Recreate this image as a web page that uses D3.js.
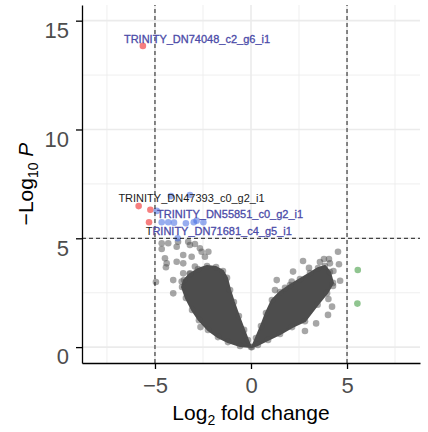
<!DOCTYPE html>
<html>
<head>
<meta charset="UTF-8">
<title>Volcano plot</title>
<style>
  body { margin: 0; background: #fff; }
  svg { display: block; font-family: "Liberation Sans", Arial, sans-serif; }
</style>
</head>
<body>
<svg></svg>
<script src="https://d3js.org/d3.v7.min.js"></script>
<script>

let width = 428, height = 432;

// axis ticks
const xTicks = [-5, 0, 5], xMinor = [-7.5, -2.5, 2.5, 7.5];
const yTicks = [0, 5, 10, 15], yMinor = [2.5, 7.5, 12.5];
const fcCut = [-5, 5], pCut = 5;

// dense part of the grey cloud (log2FC, -log10 P), read as outlines
const coreLeft = [[0,0],[-0.57,0.05],[-1.2,0.23],[-1.72,0.46],[-2.24,0.79],[-2.71,1.24],[-3.07,1.71],
  [-3.39,2.26],[-3.59,2.76],[-3.49,3.08],[-3.18,3.36],[-2.76,3.59],[-2.29,3.73],[-1.82,3.68],
  [-1.46,3.5],[-1.25,3.18],[-1.09,2.62],[-0.89,2.07],[-0.63,1.43],[-0.36,0.79],[-0.16,0.33]];
const coreRight = [[0.05,0],[0.26,0.42],[0.52,0.97],[0.78,1.57],[1.09,2.16],[1.51,2.53],[2.03,2.85],
  [2.55,3.13],[3.07,3.4],[3.49,3.63],[3.85,3.73],[4.11,3.45],[4.27,2.95],[3.96,2.48],[3.47,1.95],
  [2.81,1.19],[2.14,0.92],[1.51,0.6],[0.89,0.33],[0.36,0.1]];

// scattered grey genes outside the dense part
const greyPts = [[-4.65,4.77],[-4.31,4.77],[-3.8,4.84],[-3.18,4.69],[-2.92,4.74],[-2.57,4.38],[-2.22,4.38],
  [-2.4,4.15],[-4.39,3.85],[-3.87,3.92],[-3.53,3.85],[-3.09,4.15],[-2.92,3.7],[-3.53,3.39],[-3.18,3.39],
  [-4.05,3.08],[-3.61,3.01],[-4.95,2.99],[-4.65,4.51],[-4.43,3.67],[-4.05,2.47],[-2.63,0.92],[-3.87,4.61],
  [-3.27,4.84],[-2.66,4.54],[-4.48,4.08],[-3.53,4.23],
  [4.53,4.38],[3.8,4.05],[4.06,4.05],[2.71,3.96],[2.19,3.47],[4.64,3.05],[4.22,1.86],[4.01,1.48],
  [3.39,1.09],[2.81,0.74],[1.25,2.62],[4.11,3.85],[4.58,3.81],[4.29,3.5],[2.12,3.01],[4.27,2.81],
  [4.03,2.21],[1.34,3.08],[1.77,2.72],[3.02,3.64],[3.59,3.91]];

// significant genes
const redPts = [[-5.63,13.84],[-5.85,6.48],[-5.24,6.31],[-5.31,5.74]];
const bluePts = [[-4.91,6.26],[-4.65,5.74],[-4.31,5.74],[-4.01,5.72],[-3.39,5.69],[-2.98,5.74],
  [-2.83,5.81],[-2.48,5.74],[-4.17,6.94],[-3.18,6.99],[-3.82,5.0]];
const greenPts = [[5.56,3.54],[5.54,2.0]];

// gene labels and where they sit
const labNames = ["TRINITY_DN74048_c2_g6_i1", "TRINITY_DN47393_c0_g2_i1",
                  "TRINITY_DN55851_c0_g2_i1", "TRINITY_DN71681_c4_g5_i1"];
const labPos = [[-2.81,13.97],[-3.1,6.68],[-1.09,5.92],[-1.68,5.15]];
const labCol = ["#4b4ba8", "#1a1a1a", "#4b4ba8", "#4b4ba8"];

let svg = d3.select("svg").attr("width", width).attr("height", height);

const x = d3.scaleLinear().domain([-8.8, 8.8]).range([82, 420]);
const y = d3.scaleLinear().domain([-0.73, 15.72]).range([363, 5]);

// grid
let grid = svg.append("g");
grid.selectAll(".xm").data(xMinor).enter().append("line")
  .attr("x1", d => x(d)).attr("x2", d => x(d)).attr("y1", y.range()[0]).attr("y2", y.range()[1])
  .attr("stroke", "#ebebeb").attr("stroke-width", 0.8);
grid.selectAll(".ym").data(yMinor).enter().append("line")
  .attr("y1", d => y(d)).attr("y2", d => y(d)).attr("x1", x.range()[0]).attr("x2", x.range()[1])
  .attr("stroke", "#ebebeb").attr("stroke-width", 0.8);
grid.selectAll(".xM").data(xTicks).enter().append("line")
  .attr("x1", d => x(d)).attr("x2", d => x(d)).attr("y1", y.range()[0]).attr("y2", y.range()[1])
  .attr("stroke", "#ebebeb").attr("stroke-width", 1.6);
grid.selectAll(".yM").data(yTicks).enter().append("line")
  .attr("y1", d => y(d)).attr("y2", d => y(d)).attr("x1", x.range()[0]).attr("x2", x.range()[1])
  .attr("stroke", "#ebebeb").attr("stroke-width", 1.6);

// grey cloud
const line = d3.line().x(d => x(d[0])).y(d => y(d[1])).curve(d3.curveLinearClosed);
svg.append("g").selectAll("path").data([coreLeft, coreRight]).enter().append("path")
  .attr("d", line).attr("fill", "#4d4d4d").attr("stroke", "#4d4d4d")
  .attr("stroke-width", 2).attr("stroke-linejoin", "round");

function dots(data, col, op) {
  svg.append("g").selectAll("circle").data(data).enter().append("circle")
    .attr("cx", d => x(d[0])).attr("cy", d => y(d[1])).attr("r", 3.3)
    .attr("fill", col).attr("fill-opacity", op);
}
dots(coreLeft.concat(coreRight), "#4d4d4d", 0.5);
dots(greyPts, "#4d4d4d", 0.5);
dots(redPts, "#ee0000", 0.5);
dots(bluePts, "#4169e1", 0.55);
dots(greenPts, "#228b22", 0.5);

// cut-off lines
svg.append("g").selectAll("line").data(fcCut).enter().append("line")
  .attr("x1", d => x(d)).attr("x2", d => x(d)).attr("y1", y.range()[0]).attr("y2", y.range()[1])
  .attr("stroke", "black").attr("stroke-width", 0.9).attr("stroke-dasharray", "4,3");
svg.append("line")
  .attr("x1", x.range()[0]).attr("x2", x.range()[1]).attr("y1", y(pCut)).attr("y2", y(pCut))
  .attr("stroke", "black").attr("stroke-width", 0.9).attr("stroke-dasharray", "4,3");

// labels
let labs = svg.append("g").selectAll("text").data(labNames).enter().append("text")
  .attr("x", (d, i) => x(labPos[i][0])).attr("y", (d, i) => y(labPos[i][1]))
  .attr("text-anchor", "middle").style("font-size", "11px")
  .attr("fill", (d, i) => labCol[i])
  .attr("stroke", (d, i) => i == 1 ? "none" : labCol[i]).attr("stroke-width", 0.3);
labs.each(function(d, i) {
  let t = d3.select(this);
  if (i == 3) {
    t.append("tspan").attr("fill", "#1a1a1a").attr("stroke", "none").text(d[0]);
    t.append("tspan").text(d.slice(1));
  } else {
    t.text(d);
  }
});

// axes
let gx = svg.append("g").attr("transform", "translate(0,363)")
  .call(d3.axisBottom(x).tickValues(xTicks).tickSize(6).tickSizeOuter(0));
let gy = svg.append("g").attr("transform", "translate(82,0)")
  .call(d3.axisLeft(y).tickValues(yTicks).tickSize(6).tickSizeOuter(0));
[gx, gy].forEach(g => {
  g.select(".domain").attr("stroke", "black").attr("stroke-width", 1.3);
  g.selectAll(".tick line").attr("stroke", "black").attr("stroke-width", 1.3);
  g.selectAll(".tick text").attr("fill", "#4d4d4d").style("font-size", "22px")
    .style("font-family", "Liberation Sans, Arial, sans-serif");
});
gx.selectAll(".tick text").attr("y", 14);
gy.selectAll(".tick text").attr("x", -13).attr("dy", "0.76em");

// axis titles
let xt = svg.append("text").attr("x", x(0)).attr("y", 420)
  .attr("text-anchor", "middle").style("font-size", "21px").attr("fill", "black");
xt.append("tspan").text("Log");
xt.append("tspan").attr("dy", 5).style("font-size", "14px").text("2");
xt.append("tspan").attr("dy", -5).text(" fold change");

let yt = svg.append("text").attr("transform", "translate(33,184) rotate(-90)")
  .attr("text-anchor", "middle").style("font-size", "21px").attr("fill", "black");
yt.append("tspan").text("\u2212Log");
yt.append("tspan").attr("dy", 5).style("font-size", "14px").text("10");
yt.append("tspan").attr("dy", -5).text(" ");
yt.append("tspan").style("font-style", "italic").text("P");

</script>
</body>
</html>
